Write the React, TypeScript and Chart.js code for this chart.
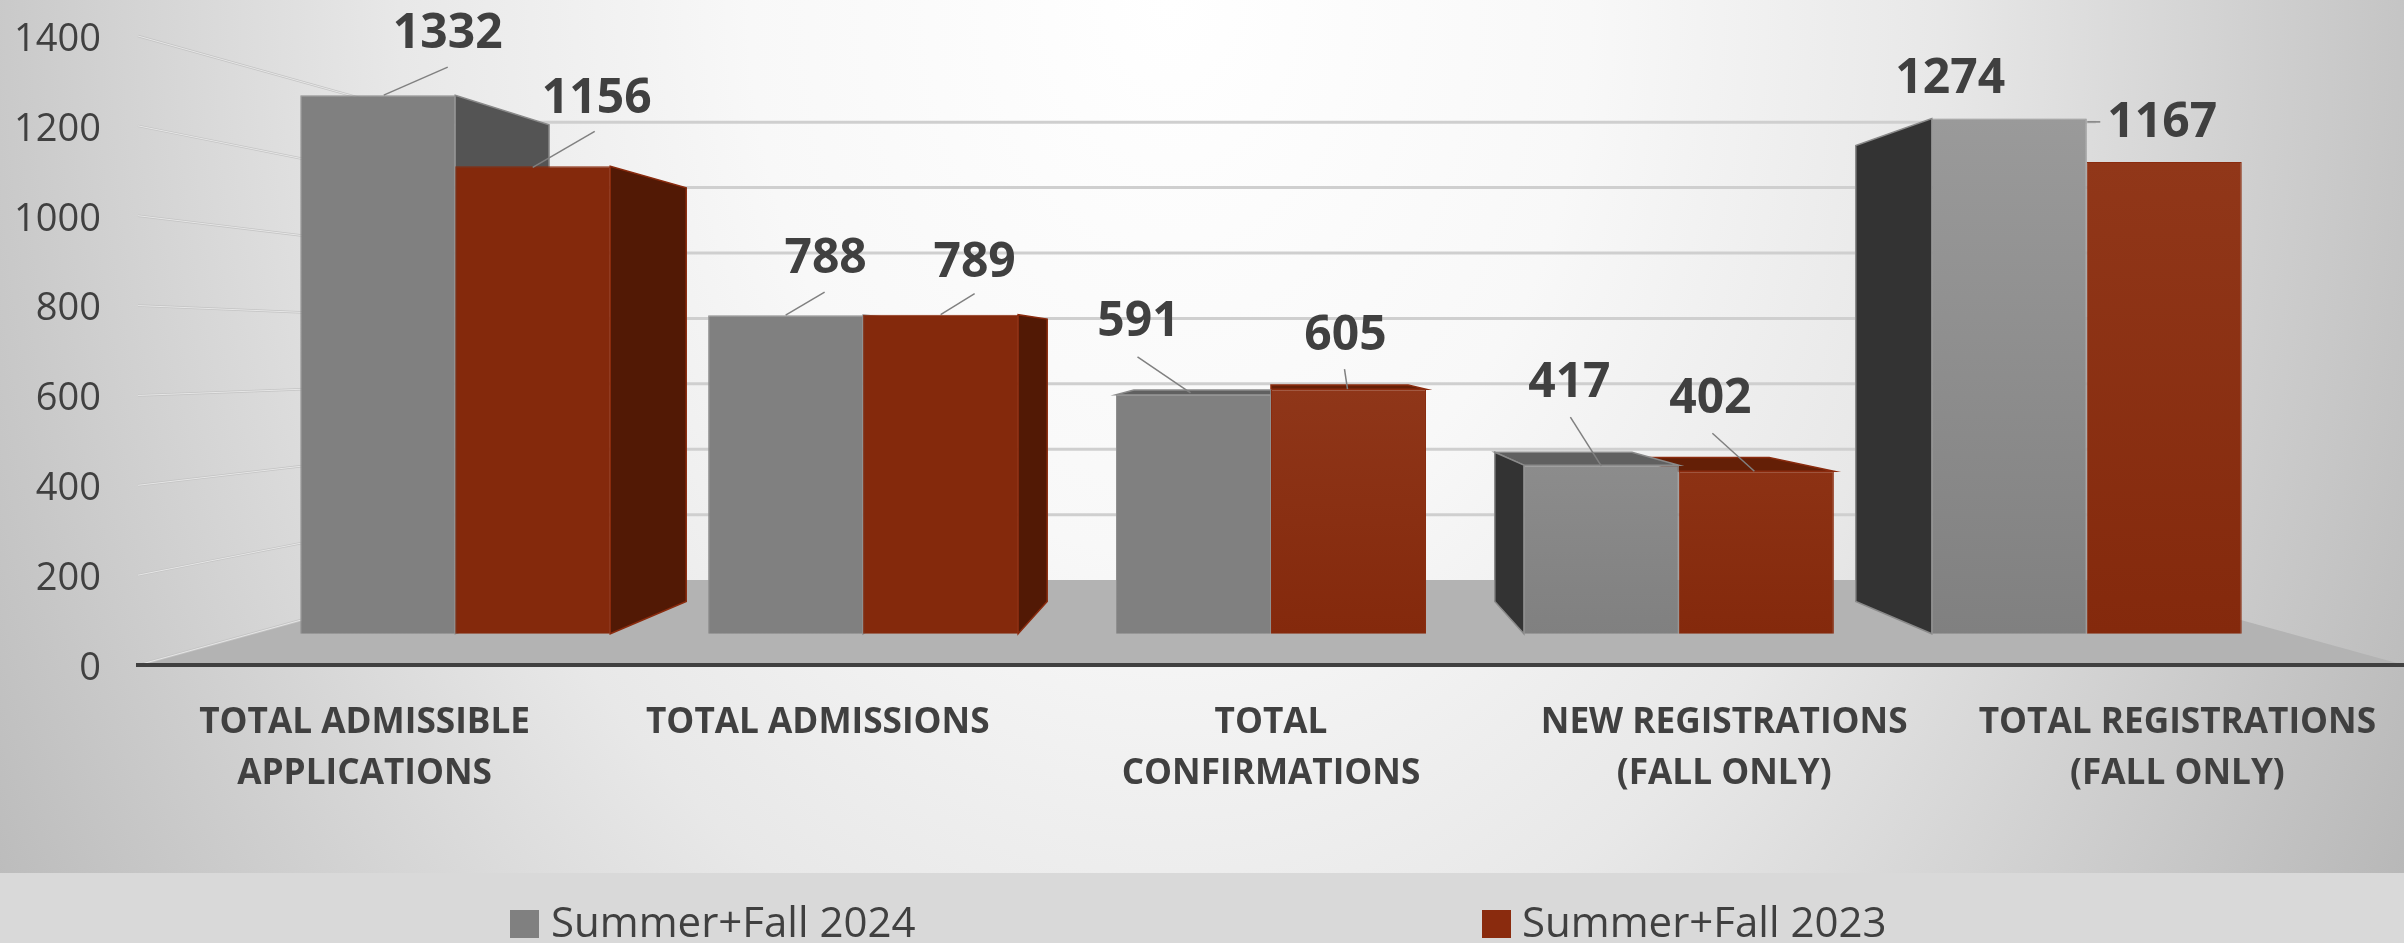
import React, { useEffect, useRef } from "react";
import { Chart, registerables } from "chart.js";

Chart.register(...registerables);

const categories = [
  ["TOTAL ADMISSIBLE", "APPLICATIONS"],
  ["TOTAL ADMISSIONS"],
  ["TOTAL", "CONFIRMATIONS"],
  ["NEW REGISTRATIONS", "(FALL ONLY)"],
  ["TOTAL REGISTRATIONS", "(FALL ONLY)"],
];
const series2024Name = "Summer+Fall 2024";
const series2023Name = "Summer+Fall 2023";
const series2024 = [1332, 788, 591, 417, 1274];
const series2023 = [1156, 789, 605, 402, 1167];
const yMax = 1400;
const yStep = 200;

// Styling of each bar face: top colour of the front gradient
const front2024 = ["#808080", "#808080", "#808080", "#8c8c8c", "#9a9a9a"];
const front2023 = ["#84290c", "#84290c", "#8f3619", "#8d3214", "#913719"];
// Offsets of value labels and their leader lines from the top centre of each bar
const labelOffset2024 = [[70, -61], [40, -56], [-55, -72], [-32, -82], [-59, -39]];
const labelOffset2023 = [[64, -67], [34, -51], [-3, -53], [-46, -72], [-2, -39]];
const leader2024 = [[[70, -28], [6, 0]], [[39, -23], [0, 0]], [[-56, -38], [-3, -2]], [[-31, -48], [0, 1]], null];
const leader2023 = [[[62, -35], [0, 1]], [[34, -21], [0, 0]], [[-4, -20], [-1, 0]], [[-44, -38], [-2, 0]], [[-77, -40], [-64, -40]]];
const leaderColors = ["#808080", "#808080"];

// Perspective of the fake-3D scene
const vanishValue = 695;
const barPlane = 0.1;
const barDepth = 0.115;
const backPlane = 0.272;

const FONT = "'Open Sans'";
const TEXT = "#404040";

function project(p: { x: number; y: number }, vp: { x: number; y: number }, t: number) {
  return { x: p.x + t * (vp.x - p.x), y: p.y + t * (vp.y - p.y) };
}

function vanishing(chart: any) {
  const a = chart.chartArea;
  return { x: (a.left + a.right) / 2, y: chart.scales.y.getPixelForValue(vanishValue) };
}

function poly(ctx: CanvasRenderingContext2D, pts: { x: number; y: number }[], fill: string, stroke?: string) {
  ctx.beginPath();
  pts.forEach((p, i) => (i ? ctx.lineTo(p.x, p.y) : ctx.moveTo(p.x, p.y)));
  ctx.closePath();
  ctx.fillStyle = fill;
  ctx.fill();
  if (stroke) {
    ctx.strokeStyle = stroke;
    ctx.lineWidth = 1.5;
    ctx.stroke();
  }
}

const scenePlugin = {
  id: "scene",
  beforeDraw(chart: any) {
    const { ctx, width, height, chartArea: a, scales } = chart;
    const vp = vanishing(chart);
    ctx.save();
    // page background
    ctx.save();
    ctx.translate(1170, 0);
    ctx.scale(1400, 1850);
    const bg = ctx.createRadialGradient(0, 0, 0, 0, 0, 1);
    bg.addColorStop(0, "#ffffff");
    bg.addColorStop(0.3, "#f8f8f8");
    bg.addColorStop(0.55, "#e8e8e8");
    bg.addColorStop(0.84, "#c9c9c9");
    bg.addColorStop(1, "#b8b8b8");
    ctx.fillStyle = bg;
    ctx.fillRect(-2, -1, 4, 2);
    ctx.restore();
    // legend band
    ctx.fillStyle = "#d9d9d9";
    ctx.fillRect(0, 873, width, height - 873);
    // floor
    const y0 = scales.y.getPixelForValue(0);
    const fl = { x: a.left, y: y0 };
    const fr = { x: a.right, y: y0 };
    poly(ctx, [fl, fr, project(fr, vp, backPlane), project(fl, vp, backPlane)], "#b3b3b3");
    // wall grid lines
    scales.y.ticks.forEach((t: any) => {
      const yp = scales.y.getPixelForValue(t.value);
      const p0 = { x: a.left, y: yp };
      const p1 = project(p0, vp, backPlane);
      const p2 = project({ x: a.right, y: yp }, vp, backPlane);
      ctx.beginPath();
      ctx.moveTo(p0.x, p0.y);
      ctx.lineTo(p1.x, p1.y);
      ctx.strokeStyle = "#c4c4c4";
      ctx.lineWidth = 2.5;
      ctx.stroke();
      ctx.strokeStyle = "#e6e6e6";
      ctx.lineWidth = 1;
      ctx.stroke();
      if (t.value !== 0) {
        ctx.beginPath();
        ctx.moveTo(p1.x, p1.y);
        ctx.lineTo(p2.x, p2.y);
        ctx.strokeStyle = "#cfcfcf";
        ctx.lineWidth = 3;
        ctx.stroke();
      }
    });
    ctx.restore();
  },
  beforeDatasetsDraw(chart: any) {
    const { ctx } = chart;
    const vp = vanishing(chart);
    const sideGrey = { right: "#545454", left: "#333333", top: "#606060", edge: "#8a8a8a" };
    const sideRed = { right: "#521905", left: "#3d1204", top: "#641f06", edge: "#8a2b0e" };
    ctx.save();
    [1, 0].forEach((dsIndex) => {
      const pal = dsIndex === 0 ? sideGrey : sideRed;
      chart.getDatasetMeta(dsIndex).data.forEach((bar: any) => {
        const w = bar.width / 2;
        const tl = { x: bar.x - w, y: bar.y };
        const tr = { x: bar.x + w, y: bar.y };
        const bl = { x: bar.x - w, y: bar.base };
        const br = { x: bar.x + w, y: bar.base };
        const back = (p: { x: number; y: number }) => project(p, vp, barDepth);
        if (tl.y > vp.y) poly(ctx, [tl, tr, back(tr), back(tl)], pal.top, pal.edge);
        if (tr.x < vp.x - 1) poly(ctx, [tr, br, back(br), back(tr)], pal.right, pal.edge);
        if (tl.x > vp.x + 1 && dsIndex === 0) poly(ctx, [tl, bl, back(bl), back(tl)], pal.left, pal.edge);
      });
    });
    ctx.restore();
  },
  afterDatasetsDraw(chart: any) {
    const { ctx } = chart;
    const offsets = [labelOffset2024, labelOffset2023];
    const leaders = [leader2024, leader2023];
    ctx.save();
    chart.data.datasets.forEach((ds: any, dsIndex: number) => {
      chart.getDatasetMeta(dsIndex).data.forEach((bar: any, i: number) => {
        const lead = leaders[dsIndex][i];
        if (lead) {
          ctx.beginPath();
          ctx.moveTo(bar.x + lead[0][0], bar.y + lead[0][1]);
          ctx.lineTo(bar.x + lead[1][0], bar.y + lead[1][1]);
          ctx.strokeStyle = leaderColors[dsIndex];
          ctx.lineWidth = 1.5;
          ctx.stroke();
        }
        const off = offsets[dsIndex][i];
        ctx.font = `bold 48px ${FONT}`;
        ctx.fillStyle = TEXT;
        ctx.textAlign = "center";
        ctx.textBaseline = "middle";
        ctx.fillText(String(ds.data[i].y), bar.x + off[0], bar.y + off[1]);
      });
    });
    // legend
    const keys = [
      { box: 510, text: 551 },
      { box: 1482, text: 1522 },
    ];
    chart.data.datasets.forEach((ds: any, dsIndex: number) => {
      const k = keys[dsIndex];
      ctx.fillStyle = dsIndex === 0 ? "#808080" : "#8a2b0e";
      ctx.fillRect(k.box, 910, 29, 28);
      ctx.font = `42px ${FONT}`;
      ctx.fillStyle = TEXT;
      ctx.textAlign = "left";
      ctx.textBaseline = "middle";
      ctx.fillText(ds.label, k.text, 925);
    });
    ctx.restore();
  },
};

function faceGradient(colors: string[], bottom: string) {
  return (c: any) => {
    const area = c.chart.chartArea;
    if (!area || c.dataIndex === undefined) return bottom;
    const top = c.chart.scales.yBars.getPixelForValue(c.parsed ? c.parsed.y : 1300);
    const base = c.chart.scales.yBars.getPixelForValue(0);
    const g = c.chart.ctx.createLinearGradient(0, top, 0, base);
    g.addColorStop(0, colors[c.dataIndex]);
    g.addColorStop(1, bottom);
    return g;
  };
}

function noOverflow(s: any) {
  s.paddingTop = 0;
  s.paddingBottom = 0;
  s.paddingLeft = 0;
  s.paddingRight = 0;
}

export default function App() {
  const ref = useRef<HTMLCanvasElement>(null);
  useEffect(() => {
    if (!ref.current) return;
    const n = categories.length;
    const k = barPlane / (1 - barPlane);
    const chart = new Chart(ref.current, {
      type: "bar",
      plugins: [scenePlugin],
      data: {
        labels: categories as any,
        datasets: [
          {
            label: series2024Name,
            data: series2024.map((y, x) => ({ x, y })) as any,
            xAxisID: "xBars",
            yAxisID: "yBars",
            backgroundColor: faceGradient(front2024, "#808080"),
            borderColor: "#8f8f8f",
            borderWidth: 1,
          },
          {
            label: series2023Name,
            data: series2023.map((y, x) => ({ x, y })) as any,
            xAxisID: "xBars",
            yAxisID: "yBars",
            backgroundColor: faceGradient(front2023, "#84290c"),
            borderColor: "#8a2b0e",
            borderWidth: 1,
          },
        ],
      },
      options: {
        responsive: false,
        animation: false,
        devicePixelRatio: 1,
        layout: { autoPadding: false, padding: { top: 36, left: 0, right: 0, bottom: 0 } },
        categoryPercentage: 0.76,
        barPercentage: 1,
        plugins: {
          legend: { display: false },
          tooltip: { enabled: false },
        },
        scales: {
          x: {
            type: "category",
            offset: true,
            grid: { display: false, drawTicks: false },
            border: { display: true, color: "#404040", width: 4 },
            afterFit: (s: any) => {
              s.height = 278;
              noOverflow(s);
            },
            ticks: {
              autoSkip: false,
              maxRotation: 0,
              minRotation: 0,
              padding: 32,
              color: TEXT,
              font: { family: FONT, weight: "bold", size: 35.2, lineHeight: 51 / 35.2 },
            },
          },
          y: {
            type: "linear",
            min: 0,
            max: yMax,
            grid: { display: false, drawTicks: false },
            border: { display: false },
            afterFit: (s: any) => {
              s.width = 138;
              noOverflow(s);
            },
            ticks: {
              stepSize: yStep,
              padding: 37,
              labelOffset: 4,
              color: TEXT,
              font: { family: FONT, size: 38 },
              callback: (v: any) => String(v),
            },
          },
          xBars: {
            type: "linear",
            display: false,
            offset: false,
            min: -0.5 - (k * n) / 2,
            max: n - 0.5 + (k * n) / 2,
            grid: { display: false },
            afterBuildTicks: (s: any) => {
              s.ticks = categories.map((_, value) => ({ value }));
            },
          },
          yBars: {
            type: "linear",
            display: false,
            min: -(vanishValue * barPlane) / (1 - barPlane),
            max: (yMax - vanishValue * barPlane) / (1 - barPlane),
            grid: { display: false },
          },
        },
      } as any,
    });
    return () => chart.destroy();
  }, []);
  return (
    <canvas
      ref={ref}
      width={2404}
      height={943}
      style={{ position: "fixed", left: 0, top: 0, width: 2404, height: 943, display: "block" }}
    />
  );
}
